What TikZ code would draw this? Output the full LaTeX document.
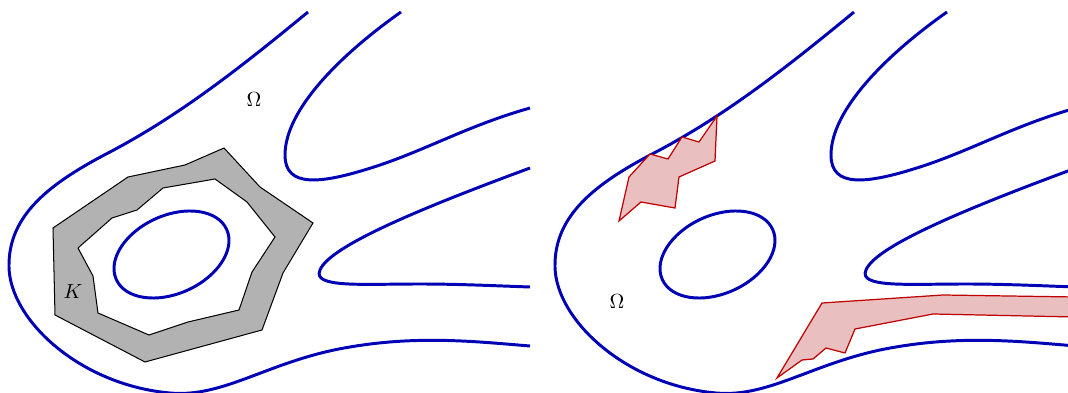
\documentclass[tikz,border=0pt]{standalone}
\usepackage{amsmath, amssymb}
\usepackage{tikz}
\usepackage{xcolor}
\definecolor{domainblue}{RGB}{0,0,180}
\definecolor{leakred}{RGB}{190,0,0}
\definecolor{leakfill}{RGB}{233,191,192}

\begin{document}
\begin{tikzpicture}[x=0.0172cm, y=-0.0172cm,
  boundary/.style={draw=domainblue, line width=1.45pt},
  compact/.style={draw=black, line width=0.5pt, fill=black!30},
  leak/.style={draw=leakred, line width=0.6pt, fill=leakfill}]
  \useasboundingbox (0,0) rectangle (1068,393);
  % the same domain twice, side by side
  \foreach \sx in {0,546} {
    \begin{scope}[shift={(\sx,0)}]
      \draw [boundary] (308,12) .. controls (240,68) and (180,115) .. (110,152)
        .. controls (50,183) and (8,215) .. (9,267)
        .. controls (10,320) and (80,385) .. (170,393)
        .. controls (225,398) and (270,360) .. (350,347)
        .. controls (420,335) and (480,342) .. (530,346);
      \draw [boundary] (401,12) .. controls (340,55) and (285,110) .. (285,155)
        .. controls (285,188) and (320,185) .. (380,165)
        .. controls (430,148) and (470,125) .. (530,108);
      \draw [boundary] (530,168) .. controls (430,205) and (330,245) .. (320,270)
        .. controls (312,288) and (360,284) .. (420,284)
        .. controls (460,284) and (500,286) .. (530,287);
      \draw [boundary, rotate around={24.4:(171.5,254.5)}] (171.5,254.5) ellipse [x radius=60.6, y radius=39.1];
    \end{scope}
  }
  % left: compact set K
  \draw [compact, even odd rule] (53,228) -- (128,177) -- (185,165) -- (224,148) -- (260,187) -- (313,223) -- (283,273) -- (262,330) -- (145,362) -- (55,315) -- cycle
    (78,248) -- (112,218) -- (137,210) -- (163,188) -- (215,179) -- (247,202) -- (275,237) -- (252,272) -- (239,310) -- (188,322) -- (149,335) -- (98,313) -- (93,276) -- cycle;
  \node (klabel) at (73,292) {$K$};
  \node (omegaleft) at (254,100) {$\Omega$};
  % right: regions reaching the boundary
  \draw [leak] (619,221) -- (629,177) -- (650,154) -- (668,159) -- (682,137) -- (699,142) -- (717,116) -- (715,161) -- (679,177) -- (675,208) -- (641,202) -- cycle;
  \draw [leak] (777,378) -- (822,303) -- (943,295) -- (1075,297) -- (1075,317) -- (933,314) -- (855,329) -- (845,353) -- (826,348) -- (813,359) -- (802,360) -- cycle;
  \node (omegaright) at (617,302) {$\Omega$};
\end{tikzpicture}
\end{document}
